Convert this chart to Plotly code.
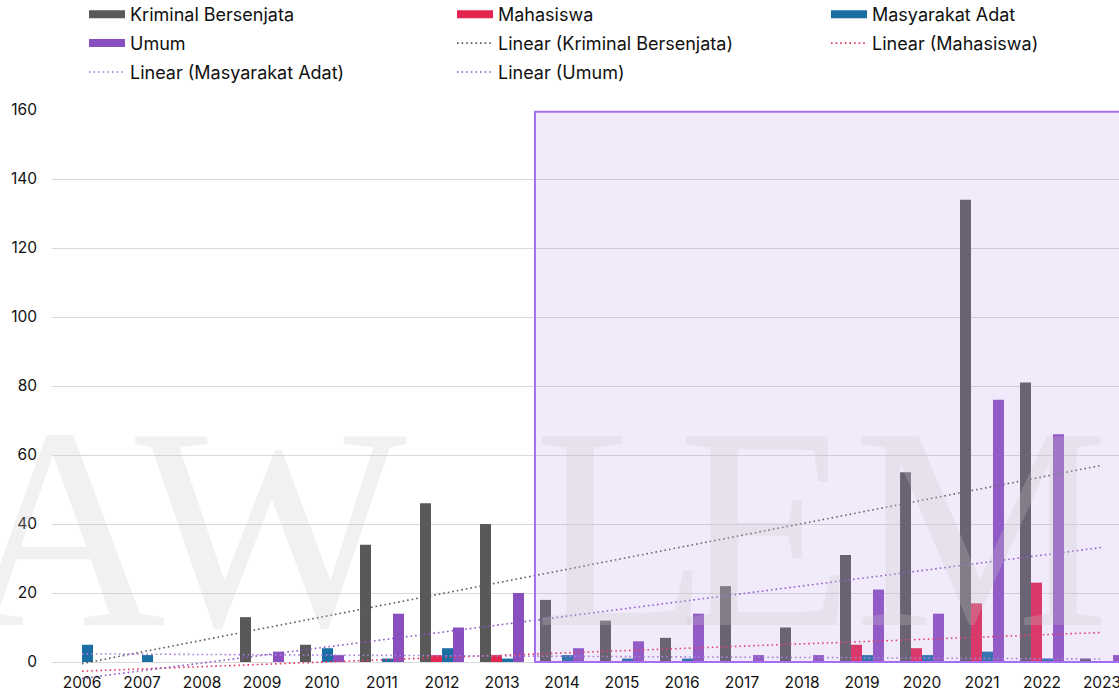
import numpy as np
import plotly.graph_objects as go

# Yearly counts per victim category
years = [str(y) for y in range(2006, 2024)]
kriminal_bersenjata = [0, 0, 0, 13, 5, 34, 46, 40, 18, 12, 7, 22, 10, 31, 55, 134, 81, 1]
mahasiswa = [0, 0, 0, 0, 0, 0, 2, 2, 0, 0, 0, 0, 0, 5, 4, 17, 23, 0]
masyarakat_adat = [5, 2, 0, 0, 4, 1, 4, 1, 2, 1, 1, 0, 0, 2, 2, 3, 1, 0]
umum = [0, 0, 0, 3, 2, 14, 10, 20, 4, 6, 14, 2, 2, 21, 14, 76, 66, 2]

series = [
    ("Kriminal Bersenjata", kriminal_bersenjata, "#595959", "#5a5a5a", "legend", "legend2"),
    ("Mahasiswa", mahasiswa, "#e2264f", "#e8375a", "legend2", "legend3"),
    ("Masyarakat Adat", masyarakat_adat, "#1a6ea3", "#a77ce0", "legend3", "legend"),
    ("Umum", umum, "#8a4fbf", "#8c55c8", "legend", "legend2"),
]

W, H = 1119, 692
L_M, T_M = 52, 110
plot_w = W - L_M
plot_h = H - T_M              # plot area runs to the bottom edge
zero_px = 662                 # pixel row of the value 0
px_per_unit = (zero_px - T_M) / 160.0
y_min = -(H - zero_px) / px_per_unit
axis_pos = (H - zero_px) / plot_h

fig = go.Figure()
xi = np.arange(len(years))

# Bars
for name, vals, color, _, _, _ in series:
    fig.add_trace(go.Bar(
        x=years, y=vals, name=name, marker_color=color,
        marker_line_width=0, showlegend=False, legendgroup=name,
    ))

# Linear trend lines (least-squares fit over the category index)
for name, vals, _, tcolor, _, tleg in series:
    slope, intercept = np.polyfit(xi, np.array(vals, dtype=float), 1)
    fig.add_trace(go.Scatter(
        x=years, y=intercept + slope * xi, mode="lines",
        name=f"Linear ({name})",
        line=dict(color=tcolor, width=1.6, dash="1.6px,3px"),
        legendgroup=f"trend-{name}", legend=tleg, hoverinfo="skip",
    ))

# Legend swatches for the bar series
for name, vals, color, _, leg, _ in series:
    fig.add_trace(go.Scatter(
        x=[None], y=[None], mode="lines", name=name,
        line=dict(color=color, width=8),
        legendgroup=name, legend=leg,
    ))

# Reorder so each legend column lists its entries top to bottom
col_order = {
    "Kriminal Bersenjata": 0, "Umum": 1, "Linear (Masyarakat Adat)": 2,
    "Mahasiswa": 0, "Linear (Kriminal Bersenjata)": 1, "Linear (Umum)": 2,
    "Masyarakat Adat": 0, "Linear (Mahasiswa)": 1,
}
bars = [t for t in fig.data if t.type == "bar"]
others = sorted([t for t in fig.data if t.type != "bar"], key=lambda t: col_order[t.name])
fig.data = tuple(bars + others)

font_family = "Inter, Lato, sans-serif"
legend_common = dict(
    orientation="v", xref="container", yref="paper", yanchor="top",
    xanchor="left", bgcolor="rgba(0,0,0,0)", borderwidth=0,
    font=dict(family=font_family, size=18, color="#111111"),
    tracegroupgap=2.5, itemwidth=36, traceorder="grouped",
)
legend_top = (H + 4) / plot_h

fig.update_layout(
    width=W, height=H,
    margin=dict(l=L_M, r=0, t=T_M, b=0, pad=0, autoexpand=False),
    paper_bgcolor="white", plot_bgcolor="white",
    barmode="group", bargap=0.2667, bargroupgap=0,
    font=dict(family=font_family, size=15.5, color="#111111"),
    legend=dict(x=84 / W, y=legend_top, **legend_common),
    legend2=dict(x=452 / W, y=legend_top, **legend_common),
    legend3=dict(x=826 / W, y=legend_top, **legend_common),
    xaxis=dict(
        type="category", range=[-0.5, -0.5 + plot_w / 60.0],
        anchor="free", position=axis_pos,
        showgrid=False, showline=False, ticks="", ticklabelstandoff=9,
        tickfont=dict(family=font_family, size=15.5, color="#111111"),
        automargin=False,
    ),
    yaxis=dict(
        range=[y_min, 160], tick0=0, dtick=20, showgrid=True, gridcolor="#d9d9d9",
        gridwidth=1, zeroline=True, zerolinecolor="#d9d9d9", zerolinewidth=1,
        showline=False, ticks="", ticklabelstandoff=14,
        tickfont=dict(family=font_family, size=15.5, color="#111111"),
        automargin=False,
    ),
)

# Highlighted period 2014 onward
fig.add_shape(
    type="rect", xref="x", yref="y", x0=7.55, x1=18, y0=0, y1=159.5,
    fillcolor="rgba(182,146,229,0.19)", line=dict(color="#a66ff2", width=2),
    layer="above",
)

# Faint background watermark letters
wm_y = (H - 527) / plot_h
for ch, px in [("A", 62), ("W", 272), ("L", 622), ("E", 766), ("M", 981)]:
    fig.add_annotation(
        text=ch, xref="paper", yref="paper",
        x=(px - L_M) / plot_w, y=wm_y, xanchor="center", yanchor="middle",
        showarrow=False,
        font=dict(family="Liberation Serif, serif", size=288,
                  color="rgba(200,200,200,0.26)"),
    )

fig.write_html("out.html")
